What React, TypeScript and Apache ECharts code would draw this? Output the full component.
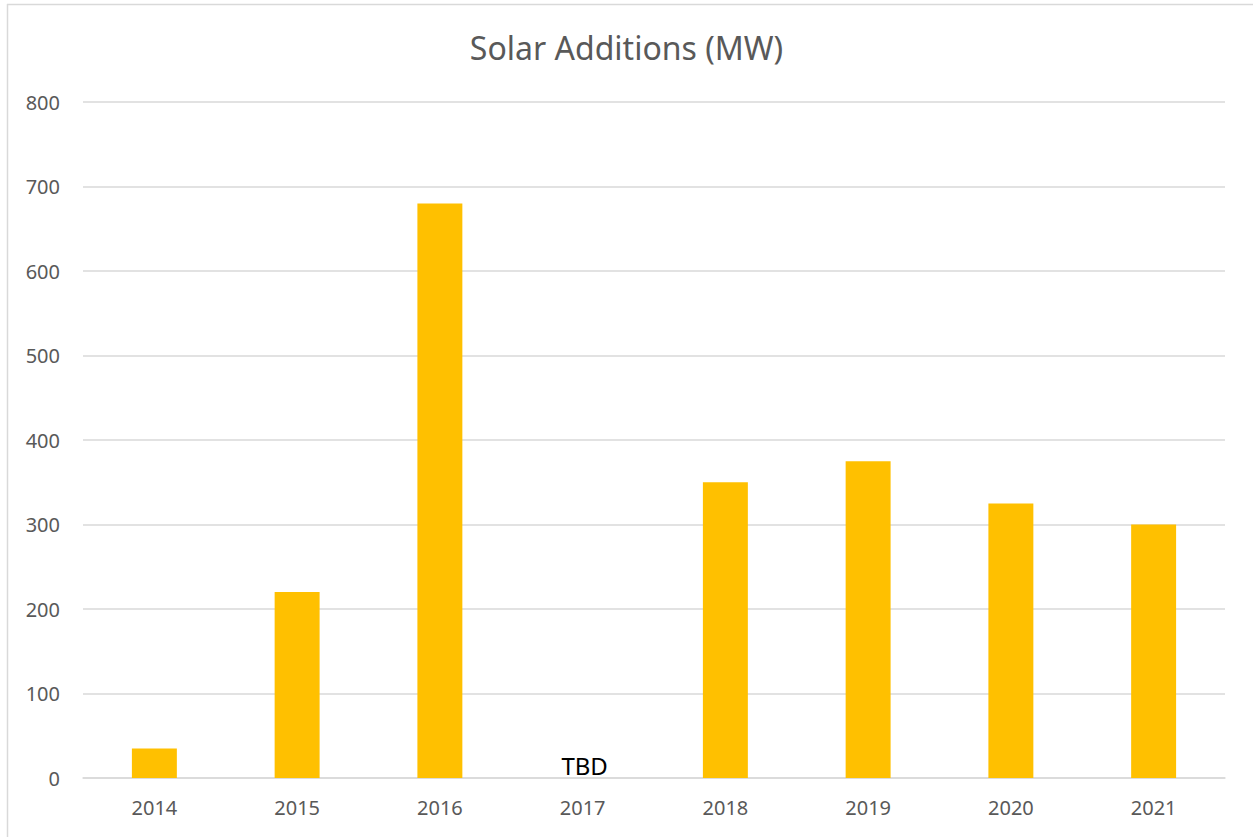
import React, { useEffect, useRef } from "react";
import * as echarts from "echarts";

const categories = ["2014", "2015", "2016", "2017", "2018", "2019", "2020", "2021"];
const values: (number | null)[] = [35, 220, 680, 0, 350, 375, 325, 300];
const pendingYear = "2017";
const pendingLabel = "TBD";
const chartTitle = "Solar Additions (MW)";

export default function App() {
  const ref = useRef<HTMLDivElement>(null);
  useEffect(() => {
    if (!ref.current) return;
    const chart = echarts.init(ref.current, undefined, { renderer: "svg" });
    const font = "'Noto Sans', sans-serif";
    chart.setOption({
      animation: false,
      backgroundColor: "#ffffff",
      title: {
        text: chartTitle,
        left: "center",
        top: 26,
        textStyle: { fontFamily: font, fontSize: 32, fontWeight: "normal", color: "#595959" },
      },
      graphic: [
        { type: "line", shape: { x1: 7, y1: 4.5, x2: 1253, y2: 4.5 }, style: { stroke: "#d9d9d9", lineWidth: 1.5 } },
        { type: "line", shape: { x1: 7.5, y1: 4, x2: 7.5, y2: 837 }, style: { stroke: "#d9d9d9", lineWidth: 1.5 } },
      ],
      grid: { left: 83, right: 28, top: 102, bottom: 59, containLabel: false },
      xAxis: {
        type: "category",
        data: categories,
        axisLine: { lineStyle: { color: "#d9d9d9", width: 1.5 } },
        axisTick: { show: false },
        axisLabel: { fontFamily: font, fontSize: 20, color: "#595959", margin: 19 },
      },
      yAxis: {
        type: "value",
        min: 0,
        max: 800,
        interval: 100,
        axisLine: { show: false },
        axisTick: { show: false },
        splitLine: { lineStyle: { color: "#d9d9d9", width: 1.5 } },
        axisLabel: { fontFamily: font, fontSize: 20, color: "#595959", margin: 23 },
      },
      series: [
        {
          type: "bar",
          barWidth: "31.5%",
          itemStyle: { color: "#FFC000" },
          data: categories.map((c, i) =>
            c === pendingYear
              ? {
                  value: values[i],
                  label: {
                    show: true,
                    position: "top",
                    formatter: pendingLabel,
                    fontFamily: font,
                    fontSize: 24,
                    color: "#000000",
                    distance: 1,
                    offset: [2, 0],
                  },
                }
              : values[i]
          ),
        },
      ],
    });
    return () => chart.dispose();
  }, []);
  return (
    <div
      ref={ref}
      style={{ position: "absolute", left: 0, top: 0, width: 1253, height: 837 }}
    />
  );
}
